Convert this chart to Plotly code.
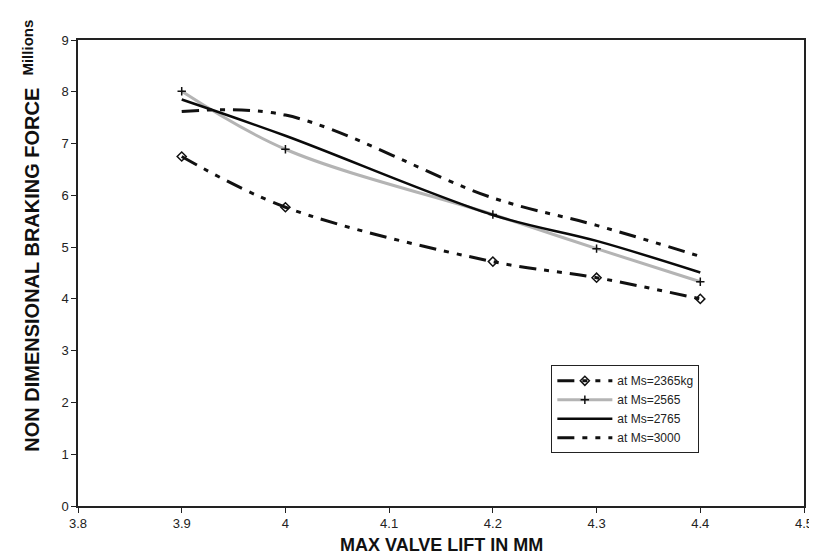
import plotly.graph_objects as go

# Data
lift_mm = [3.9, 4.0, 4.2, 4.3, 4.4]
ms_2365 = [6.75, 5.77, 4.72, 4.41, 4.00]
ms_2565 = [8.01, 6.89, 5.63, 4.97, 4.33]
ms_2765 = [7.85, 7.15, 5.62, 5.12, 4.51]
ms_3000 = [7.62, 7.55, 5.95, 5.42, 4.82]

x_ticks = [3.8, 3.9, 4.0, 4.1, 4.2, 4.3, 4.4, 4.5]
x_tick_text = ["3.8", "3.9", "4", "4.1", "4.2", "4.3", "4.4", "4.5"]
y_ticks = [0, 1, 2, 3, 4, 5, 6, 7, 8, 9]

FONT = "Liberation Sans, Arial, sans-serif"
DASHDOTDOT = "17px,8px,5px,8px,5px,8px"

fig = go.Figure()
fig.add_trace(go.Scatter(
    x=lift_mm, y=ms_2365, name="at Ms=2365kg", mode="lines+markers",
    line=dict(color="#111111", width=3, dash=DASHDOTDOT, shape="spline", smoothing=1.0),
    marker=dict(symbol="diamond-open", size=7, color="#111111", line=dict(width=1.5, color="#111111")),
))
fig.add_trace(go.Scatter(
    x=lift_mm, y=ms_2565, name="at Ms=2565", mode="lines+markers",
    line=dict(color="#b4b4b4", width=3, shape="spline", smoothing=1.0),
    marker=dict(symbol="cross-thin", size=6, color="#111111", line=dict(width=1.5, color="#111111")),
))
fig.add_trace(go.Scatter(
    x=lift_mm, y=ms_2765, name="at Ms=2765", mode="lines",
    line=dict(color="#0a0a0a", width=2.5, shape="spline", smoothing=1.0),
))
fig.add_trace(go.Scatter(
    x=lift_mm, y=ms_3000, name="at Ms=3000", mode="lines",
    line=dict(color="#111111", width=3, dash=DASHDOTDOT, shape="spline", smoothing=1.0),
))

axis_common = dict(
    showgrid=False, zeroline=False, showline=True, linecolor="#222222", linewidth=1.5,
    mirror=True, ticks="outside", ticklen=5, tickcolor="#222222", tickwidth=1,
    tickfont=dict(family=FONT, size=13, color="#222222"),
)

fig.update_layout(
    width=817, height=556,
    margin=dict(l=70, r=12, t=32, b=58),
    paper_bgcolor="white", plot_bgcolor="white",
    font=dict(family=FONT, color="#222222"),
    showlegend=True,
    legend=dict(
        x=0.652, y=0.302, xanchor="left", yanchor="top",
        bordercolor="#222222", borderwidth=1, bgcolor="white",
        font=dict(family=FONT, size=12, color="#222222"),
        itemwidth=55, tracegroupgap=0,
    ),
    xaxis=dict(range=[3.8, 4.5], tickvals=x_ticks, ticktext=x_tick_text, **axis_common),
    yaxis=dict(range=[0, 9], tickvals=y_ticks, **axis_common),
    annotations=[
        dict(text="<b>MAX VALVE LIFT IN MM</b>", xref="paper", yref="paper",
             x=0.5, y=-0.084, xanchor="center", yanchor="middle", showarrow=False,
             font=dict(family=FONT, size=18, color="#111111")),
        dict(text="<b>NON DIMENSIONAL BRAKING FORCE</b>", xref="paper", yref="paper",
             x=-0.0626, y=0.506, xanchor="center", yanchor="middle", textangle=-90, showarrow=False,
             font=dict(family=FONT, size=20, color="#111111")),
        dict(text="<b>Millions</b>", xref="paper", yref="paper",
             x=-0.0694, y=0.983, xanchor="center", yanchor="middle", textangle=-90, showarrow=False,
             font=dict(family=FONT, size=15, color="#111111")),
    ],
)

fig.write_html("out.html")
